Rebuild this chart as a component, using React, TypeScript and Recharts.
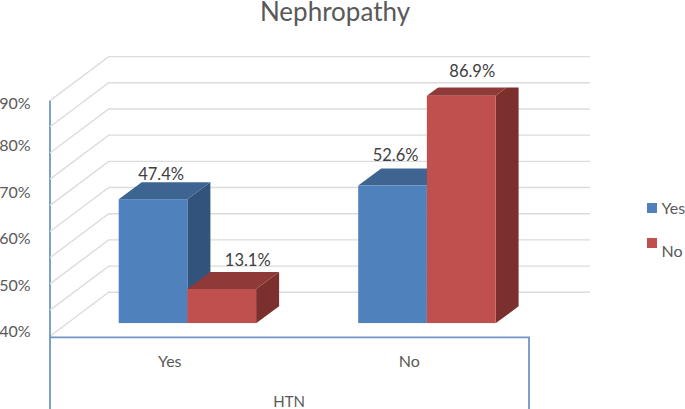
import { Bar, BarChart, CartesianGrid, LabelList, Legend, XAxis, YAxis } from "recharts"

const categories = ["Yes", "No"]
const yesValues = [47.4, 52.6]
const noValues = [13.1, 86.9]
const gridValues = [0, 10, 20, 30, 40, 50, 60, 70, 80, 90]
// the printed axis labels do not sit on the gridlines, so they get their own positions
const axisLabels = ["40%", "50%", "60%", "70%", "80%", "90%"]
const axisLabelAt = [-3.2, 14.6, 32.6, 50.2, 68.1, 84.1]

const data = categories.map((name, i) => ({ name, yes: yesValues[i], no: noValues[i] }))

const FONT = "Lato, 'Open Sans', sans-serif"
const BLUE = ["#4F81BD", "#3E6491", "#31537C"]
const RED = ["#C0504D", "#8F3A38", "#7B302E"]
const AXIS_BLUE = "#7096C6"

// 3d offsets, all relative to the plane the bars stand on
const BAR_DX = 23
const BAR_DY = 17
const WALL_FRONT = { x: -17.7, y: 13 }
const WALL_BACK = { x: 41, y: -31 }

const labelNudge: Record<string, { dx: number; dy: number }[]> = {
  yes: [{ dx: 8, dy: -25 }, { dx: 3, dy: -31 }],
  no: [{ dx: 26, dy: -29 }, { dx: 11, dy: -25 }],
}

function Bar3D({ x, y, width, height, colors }: any) {
  const r = x + width
  const b = y + height
  return (
    <g>
      <path d={`M${r},${y} L${r + BAR_DX},${y - BAR_DY} L${r + BAR_DX},${b - BAR_DY} L${r},${b} Z`} fill={colors[2]} />
      <path d={`M${x},${y} L${x + BAR_DX},${y - BAR_DY} L${r + BAR_DX},${y - BAR_DY} L${r},${y} Z`} fill={colors[1]} />
      <rect x={x} y={y} width={width} height={height} fill={colors[0]} />
    </g>
  )
}

function GridLine({ x1, y1 }: any) {
  const fx = x1 + WALL_FRONT.x
  const fy = y1 + WALL_FRONT.y
  const bx = x1 + WALL_BACK.x
  const by = y1 + WALL_BACK.y
  return <path d={`M${fx},${fy} L${bx},${by} L590,${by}`} fill="none" stroke="#DCDCDC" strokeWidth={1.4} />
}

function AxisFrame({ x1, y1, x2 }: any) {
  const left = x1 + WALL_FRONT.x
  const right = x2 + WALL_FRONT.x
  const top = y1 + WALL_FRONT.y + 1
  const high = 100.5
  return (
    <path
      d={`M${left},${high} L${left},409 M${left},${top} L${right},${top} L${right},409`}
      fill="none"
      stroke={AXIS_BLUE}
      strokeWidth={1.8}
    />
  )
}

function GridWithFrame(props: any) {
  return (
    <g>
      <GridLine {...props} />
      {props.y1 > 300 ? <AxisFrame {...props} /> : null}
    </g>
  )
}

function CategoryTick({ x, y, payload }: any) {
  return (
    <text x={x + WALL_FRONT.x} y={y} dy={36} textAnchor="middle" fontSize={16} fontFamily={FONT} fill="#595959">
      {payload.value}
    </text>
  )
}

function ValueLabel({ x, y, width, index, value, series }: any) {
  const nudge = labelNudge[series][index]
  return (
    <text
      x={x + width / 2 + nudge.dx}
      y={y + nudge.dy}
      textAnchor="middle"
      dominantBaseline="central"
      fontSize={16.5}
      fontFamily={FONT}
      fill="#404040"
    >
      {value.toFixed(1)}%
    </text>
  )
}

function LegendBox({ payload }: any) {
  const rows = [
    { square: 0, text: 0 },
    { square: 35, text: 43 },
  ]
  return (
    <div style={{ position: "relative", fontFamily: FONT, fontSize: 16, color: "#595959" }}>
      {(payload || []).map((entry: any, i: number) => (
        <div key={entry.value}>
          <span style={{ position: "absolute", left: 0, top: rows[i].square, width: 10, height: 10, background: entry.color }} />
          <span style={{ position: "absolute", left: 15, top: rows[i].text - 5, lineHeight: "20px" }}>{entry.value}</span>
        </div>
      ))}
    </div>
  )
}

export default function App() {
  return (
    <div style={{ position: "absolute", left: 0, top: 0, width: 685, height: 409, background: "#fff", overflow: "hidden" }}>
      <div
        style={{
          position: "absolute",
          left: 0,
          width: 670,
          top: 0,
          textAlign: "center",
          fontFamily: FONT,
          fontSize: 26,
          color: "#595959",
          lineHeight: "22px",
        }}
      >
        Nephropathy
      </div>
      <BarChart
        width={685}
        height={409}
        data={data}
        barSize={68.7}
        barGap={0}
        margin={{ top: 87.6, right: 98.3, bottom: 0, left: 0 }}
      >
        <CartesianGrid vertical={false} horizontalValues={gridValues} horizontal={<GridWithFrame />} />
        <XAxis
          dataKey="name"
          axisLine={false}
          tickLine={false}
          height={85.7}
          interval={0}
          tick={<CategoryTick />}
          label={{ value: "HTN", position: "insideBottom", dx: -18, dy: 3, fontSize: 15, fontFamily: FONT, fill: "#595959" }}
        />
        <YAxis
          width={67.7}
          domain={[0, 90]}
          ticks={axisLabelAt}
          interval={0}
          allowDataOverflow
          axisLine={false}
          tickLine={false}
          tickMargin={31}
          tickFormatter={(v: number) => axisLabels[axisLabelAt.indexOf(v)]}
          tick={{ fontSize: 16, fontFamily: FONT, fill: "#595959" }}
        />
        <Legend
          layout="vertical"
          align="right"
          verticalAlign="top"
          itemSorter={null}
          wrapperStyle={{ left: 646.5, top: 203, width: 40, right: "auto" }}
          content={<LegendBox />}
        />
        <Bar dataKey="yes" name="Yes" fill={BLUE[0]} shape={<Bar3D colors={BLUE} />} isAnimationActive={false}>
          <LabelList dataKey="yes" content={<ValueLabel series="yes" />} />
        </Bar>
        <Bar dataKey="no" name="No" fill={RED[0]} shape={<Bar3D colors={RED} />} isAnimationActive={false}>
          <LabelList dataKey="no" content={<ValueLabel series="no" />} />
        </Bar>
      </BarChart>
    </div>
  )
}
